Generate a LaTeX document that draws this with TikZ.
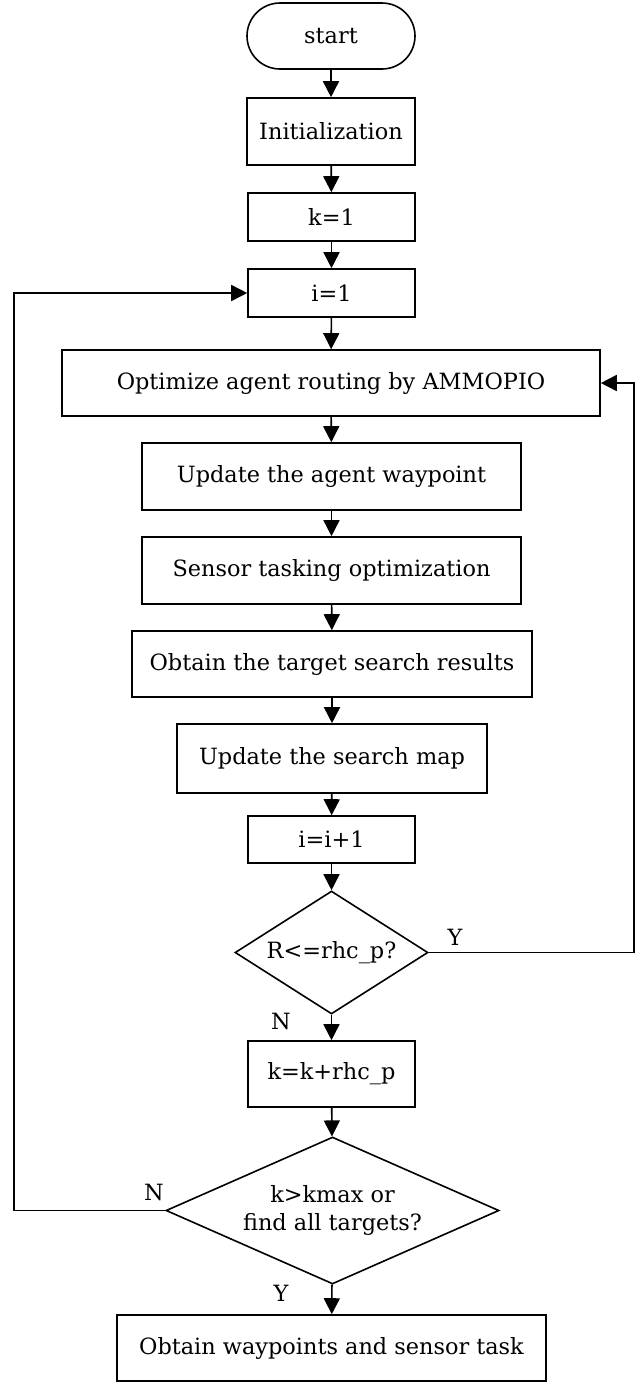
\documentclass[tikz,border=0pt]{standalone}
\usepackage{fontspec}
\setmainfont{DejaVu Serif}
\usetikzlibrary{arrows.meta, shapes.geometric}

\begin{document}
\begin{tikzpicture}[x=0.5pt, y=-0.5pt,
    every node/.style={font=\fontsize{11.2}{14}\selectfont, text=black},
    proc/.style={draw, line width=0.8pt, inner sep=0pt, align=center},
    term/.style={proc, rounded corners=16.5pt},
    decide/.style={draw, line width=0.8pt, shape=diamond, inner sep=0pt, align=center},
    flow/.style={line width=0.8pt, -{Triangle[length=8pt, width=8pt]}},
    lbl/.style={inner sep=0pt}]
  \useasboundingbox (0,0) rectangle (634,1382);
  % Main column of steps
  \node[term, minimum width=84pt, minimum height=33pt] (start) at (331,36) {start};
  \node[proc, minimum width=84pt, minimum height=33.5pt] (init) at (331,131.5) {Initialization};
  \node[proc, minimum width=83.5pt, minimum height=24pt] (k1) at (331.5,217) {k=1};
  \node[proc, minimum width=83.5pt, minimum height=24pt] (i1) at (331.5,293) {i=1};
  \node[proc, minimum width=269pt, minimum height=33pt] (opt) at (331,383) {Optimize agent routing by AMMOPIO};
  \node[proc, minimum width=189.5pt, minimum height=33.5pt] (upd) at (331.5,476.5) {Update the agent waypoint};
  \node[proc, minimum width=189.5pt, minimum height=33.5pt] (sens) at (331.5,570.5) {Sensor tasking optimization};
  \node[proc, minimum width=200pt, minimum height=33pt] (obt) at (332,664) {Obtain the target search results};
  \node[proc, minimum width=155pt, minimum height=34.5pt] (map) at (332,758.5) {Update the search map};
  \node[proc, minimum width=83.5pt, minimum height=23.5pt] (ii) at (331.5,839.5) {i=i+1};
  \node[decide, minimum width=96.5pt, minimum height=61.5pt, aspect=1.57] (dec1) at (331.5,952.5) {R<=rhc\_p?};
  \node[proc, minimum width=83.5pt, minimum height=33pt] (kk) at (331.5,1074) {k=k+rhc\_p};
  \node[decide, minimum width=166.5pt, minimum height=73.5pt, aspect=2.27] (dec2) at (332.5,1210.5) {k>kmax or\\find all targets?};
  \node[proc, minimum width=214.5pt, minimum height=33pt] (fin) at (331.5,1348) {Obtain waypoints and sensor task};

  % Straight arrows down the column
  \foreach \a/\b in {start/init, init/k1, k1/i1, i1/opt, opt/upd, upd/sens,
                     sens/obt, obt/map, map/ii, ii/dec1, dec1/kk, kk/dec2, dec2/fin}
    \draw[flow] (\a) -- (\b);

  % Loops back
  \draw[flow] (dec1.east) -- ++(205,0) |- (opt.east);
  \draw[flow] (dec2.west) -- ++(-151.4,0) |- (i1.west);

  % Branch labels
  \node[lbl] (y1) at (455,937) {Y};
  \node[lbl] (n1) at (281,1021) {N};
  \node[lbl] (n2) at (154,1192) {N};
  \node[lbl] (y2) at (281,1293) {Y};
\end{tikzpicture}
\end{document}
